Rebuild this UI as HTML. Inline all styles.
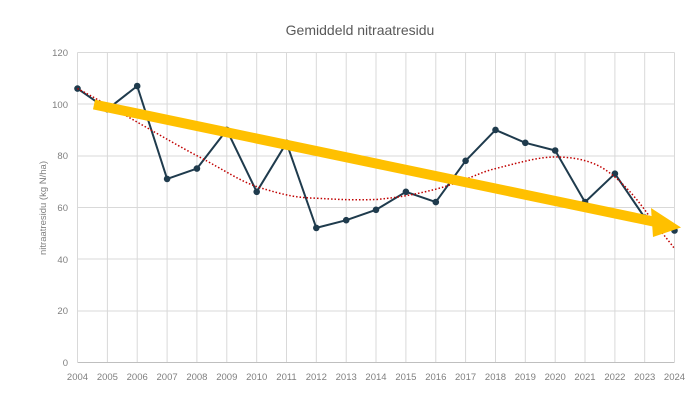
<!DOCTYPE html>
<html><head><meta charset="utf-8"><style>
html,body{margin:0;padding:0;background:#fff;}
svg{display:block;font-family:"Liberation Sans",sans-serif;}
</style></head><body>
<svg width="698" height="406" viewBox="0 0 698 406">
<rect width="698" height="406" fill="#fff"/>
<text x="360" y="35" text-anchor="middle" font-size="14" fill="#595959">Gemiddeld nitraatresidu</text>
<g stroke="#d9d9d9" stroke-width="1">
<line x1="77.5" y1="52.5" x2="674.5" y2="52.5"/>
<line x1="77.5" y1="104" x2="674.5" y2="104"/>
<line x1="77.5" y1="156" x2="674.5" y2="156"/>
<line x1="77.5" y1="207.5" x2="674.5" y2="207.5"/>
<line x1="77.5" y1="259" x2="674.5" y2="259"/>
<line x1="77.5" y1="311" x2="674.5" y2="311"/>
<line x1="107.4" y1="52.5" x2="107.4" y2="362"/><line x1="137.2" y1="52.5" x2="137.2" y2="362"/>
<line x1="167.1" y1="52.5" x2="167.1" y2="362"/><line x1="196.9" y1="52.5" x2="196.9" y2="362"/>
<line x1="226.8" y1="52.5" x2="226.8" y2="362"/><line x1="256.7" y1="52.5" x2="256.7" y2="362"/>
<line x1="286.5" y1="52.5" x2="286.5" y2="362"/><line x1="316.3" y1="52.5" x2="316.3" y2="362"/>
<line x1="346.2" y1="52.5" x2="346.2" y2="362"/><line x1="376" y1="52.5" x2="376" y2="362"/>
<line x1="405.9" y1="52.5" x2="405.9" y2="362"/><line x1="435.8" y1="52.5" x2="435.8" y2="362"/>
<line x1="465.6" y1="52.5" x2="465.6" y2="362"/><line x1="495.5" y1="52.5" x2="495.5" y2="362"/>
<line x1="525.3" y1="52.5" x2="525.3" y2="362"/><line x1="555.2" y1="52.5" x2="555.2" y2="362"/>
<line x1="585" y1="52.5" x2="585" y2="362"/><line x1="614.9" y1="52.5" x2="614.9" y2="362"/>
<line x1="644.7" y1="52.5" x2="644.7" y2="362"/><line x1="674.5" y1="52.5" x2="674.5" y2="362"/>
<line x1="77.5" y1="52.5" x2="77.5" y2="362"/>
</g>
<line x1="77.5" y1="362.5" x2="674.5" y2="362.5" stroke="#bfbfbf"/>
<g font-size="9.5" fill="#7f7f7f" text-anchor="end">
<text x="68" y="56">120</text><text x="68" y="108">100</text><text x="68" y="159">80</text>
<text x="68" y="211">60</text><text x="68" y="263">40</text><text x="68" y="314">20</text><text x="68" y="366">0</text>
</g>
<g font-size="9.5" fill="#7f7f7f" text-anchor="middle">
<text x="77.5" y="380">2004</text><text x="107.4" y="380">2005</text><text x="137.2" y="380">2006</text>
<text x="167.1" y="380">2007</text><text x="196.9" y="380">2008</text><text x="226.8" y="380">2009</text>
<text x="256.7" y="380">2010</text><text x="286.5" y="380">2011</text><text x="316.3" y="380">2012</text>
<text x="346.2" y="380">2013</text><text x="376" y="380">2014</text><text x="405.9" y="380">2015</text>
<text x="435.8" y="380">2016</text><text x="465.6" y="380">2017</text><text x="495.5" y="380">2018</text>
<text x="525.3" y="380">2019</text><text x="555.2" y="380">2020</text><text x="585" y="380">2021</text>
<text x="614.9" y="380">2022</text><text x="644.7" y="380">2023</text><text x="674.5" y="380">2024</text>
</g>
<text transform="translate(46,208) rotate(-90)" text-anchor="middle" font-size="9.5" fill="#7f7f7f">nitraatresidu (kg N/ha)</text>
<polyline fill="none" stroke="#1f3b4d" stroke-width="2" stroke-linejoin="round" points="77.5,88.6 107.4,109.3 137.2,86 167.1,178.9 196.9,168.6 226.8,129.9 256.7,191.8 286.5,142.8 316.3,227.9 346.2,220.2 376,209.8 405.9,191.8 435.8,202.1 465.6,160.8 495.5,129.9 525.3,142.8 555.2,150.5 585,202.1 614.9,173.7 644.7,217.6 674.5,230.5"/>
<g fill="#1f3b4d">
<circle cx="77.5" cy="88.6" r="3.3"/><circle cx="107.4" cy="109.3" r="3.3"/><circle cx="137.2" cy="86" r="3.3"/>
<circle cx="167.1" cy="178.9" r="3.3"/><circle cx="196.9" cy="168.6" r="3.3"/><circle cx="226.8" cy="129.9" r="3.3"/>
<circle cx="256.7" cy="191.8" r="3.3"/><circle cx="286.5" cy="142.8" r="3.3"/><circle cx="316.3" cy="227.9" r="3.3"/>
<circle cx="346.2" cy="220.2" r="3.3"/><circle cx="376" cy="209.8" r="3.3"/><circle cx="405.9" cy="191.8" r="3.3"/>
<circle cx="435.8" cy="202.1" r="3.3"/><circle cx="465.6" cy="160.8" r="3.3"/><circle cx="495.5" cy="129.9" r="3.3"/>
<circle cx="525.3" cy="142.8" r="3.3"/><circle cx="555.2" cy="150.5" r="3.3"/><circle cx="585" cy="202.1" r="3.3"/>
<circle cx="614.9" cy="173.7" r="3.3"/><circle cx="644.7" cy="217.6" r="3.3"/><circle cx="674.5" cy="230.5" r="3.3"/>
</g>
<path fill="none" stroke="#c00000" stroke-width="1.5" stroke-dasharray="1.5,2" d="M77.5,88.6 C107,104 167,140 196.9,155.7 C226,171 240,181 256.7,186.6 C286,196 300,198 316.3,198.2 C346,200 360,200 376,199.5 C405,197 420,193 435.8,189.2 C466,181 480,172 495.5,168.6 C525,161 540,157 555.2,157 C570,157 585,159 599,166 C614,174 630,190 644.7,209.8 C658,228 668,240 674.5,248.5"/>
<line x1="94" y1="104.5" x2="658" y2="222.5" stroke="#ffc000" stroke-width="10"/>
<polygon points="651,208 681,227.5 653,237" fill="#ffc000"/>
</svg>
</body></html>
